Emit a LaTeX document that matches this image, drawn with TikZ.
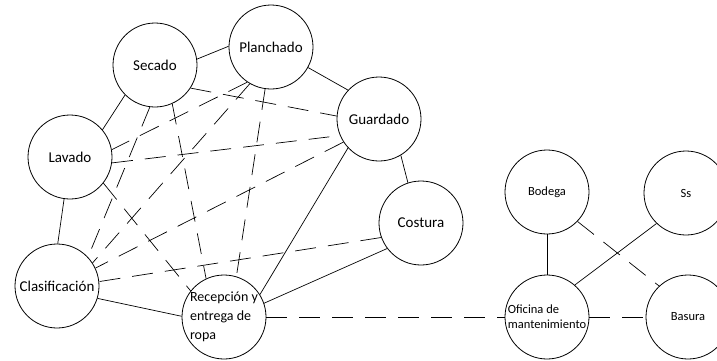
\documentclass[tikz,border=0pt]{standalone}
\usepackage{fontspec}
\setmainfont{Carlito}
\usetikzlibrary{positioning}

\begin{document}
\begin{tikzpicture}[x=1pt, y=-1pt,
    area/.style={circle, draw, line width=0.8pt, minimum size=84pt, inner sep=0pt},
    big/.style={font=\fontsize{15}{19}\selectfont, align=left},
    small/.style={font=\fontsize{12.5}{15}\selectfont, align=left},
    solidlink/.style={line width=0.7pt},
    dashlink/.style={line width=0.7pt, dash pattern=on 21pt off 12pt},
]
\useasboundingbox (0,0) rectangle (717,360);
\clip (0,0) rectangle (717,360);

% --- Laundry areas ---
\node[area, big] (secado) at (155, 65) {Secado};
\node[area, big] (planchado) at (271, 47) {Planchado};
\node[area, big] (guardado) at (379, 119) {Guardado};
\node[area, big] (lavado) at (70, 157) {Lavado};
\node[area, big] (costura) at (421, 223) {Costura};
\node[area, label={[big]center:Clasificación}] (clasif) at (57, 286) {};
\node[area, label={[big, font=\fontsize{14}{19}\selectfont]center:Recepción y\\entrega de\\ropa}] (recep) at (224, 317) {};

% --- Service areas ---
\node[area, small] (bodega) at (547, 192) {Bodega};
\node[area, small] (ss) at (686, 193) {Ss};
\node[area, label={[small]center:Oficina de\\mantenimiento}] (oficina) at (547, 317) {};
\node[area, small] (basura) at (688, 317) {Basura};

% --- Solid links ---
\draw[solidlink] (secado.8) -- (planchado.179);
\draw[solidlink] (planchado.331) -- (guardado.137);
\draw[solidlink] (secado.225) -- (lavado.40);
\draw[solidlink] (lavado.262) -- (clasif.89);
\draw[solidlink] (guardado.301) -- (costura.108);
\draw[solidlink] (clasif.343) -- (recep.179);
\draw[solidlink] (guardado.223) -- (recep.32);
\draw[solidlink] (costura.217) -- (recep.19);
\draw[solidlink] (bodega) -- (oficina);
\draw[solidlink] (ss.226) -- (oficina.49);

% --- Dashed links ---
\draw[dashlink] (secado.327) -- (guardado.176);
\draw[dashlink] (secado.263) -- (clasif.43);
\draw[dashlink] (secado.294) -- (recep.115);
\draw[dashlink] (planchado.236) -- (lavado.10);
\draw[dashlink] (planchado.240) -- (clasif.33);
\draw[dashlink] (planchado.262) -- (recep.73);
\draw[dashlink] (lavado.352) -- (guardado.203);
\draw[dashlink] (lavado.322) -- (recep.142);
\draw[dashlink] (guardado.213) -- (clasif.25);
\draw[dashlink] (costura.200) -- (clasif.6);
\draw[dashlink] (recep) -- (oficina);
\draw[dashlink] (bodega.316) -- (basura.133);
\draw[dashlink] (oficina) -- (basura);
\end{tikzpicture}
\end{document}
